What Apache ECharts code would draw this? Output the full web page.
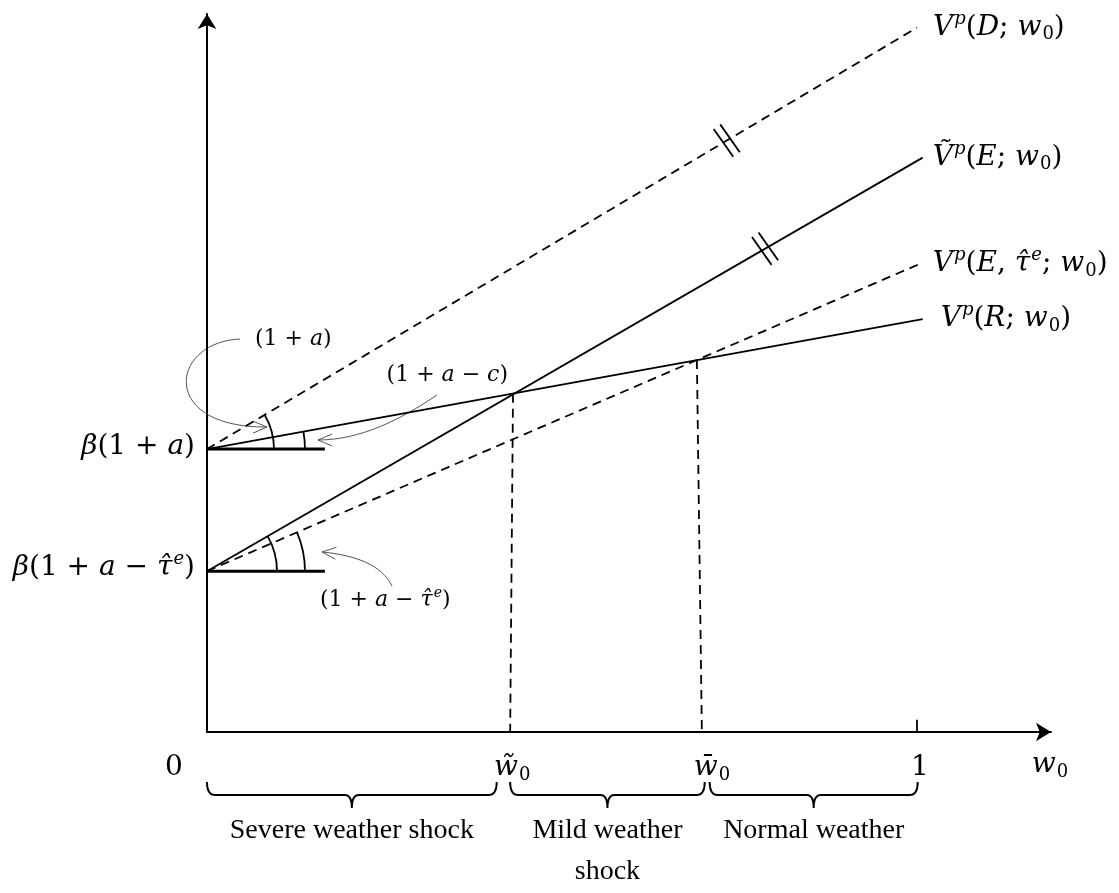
<!DOCTYPE html>
<html>
<head>
<meta charset="utf-8">
<script src="https://cdn.jsdelivr.net/npm/echarts@6/dist/echarts.min.js"></script>
<style>
  html, body { margin: 0; padding: 0; background: #fff; }
  #main { width: 1119px; height: 893px; }
</style>
</head>
<body>
<div id="main"></div>
<script>
// value functions, [w0, V] end points
var lineD = [[0, 0.394], [1.000, 0.981]];       // V^p(D; w0), dashed
var lineEt = [[0, 0.224], [1.008, 0.800]];      // V~^p(E; w0)
var lineEtau = [[0, 0.224], [1.004, 0.652]];    // V^p(E, tau; w0), dashed
var lineR = [[0, 0.394], [1.008, 0.575]];       // V^p(R; w0)
// horizontal reference bars at the two intercepts
var baseA = [[0, 0.394], [0.166, 0.394]];
var baseB = [[0, 0.224], [0.166, 0.224]];
// thresholds
var dropTilde = [[0.431, 0.471], [0.427, 0]];
var dropBar = [[0.690, 0.518], [0.697, 0]];
var tickOne = [[1, 0], [1, 0.017]];
// double hash marks (x position on the line)
var hashOnD = 0.732;
var hashOnEt = 0.786;
// regions under the axis
var regionFrom = [0, 0.427, 0.708];
var regionTo = [0.408, 0.701, 1.001];
var regionText = ['Severe weather shock', 'Mild weather\nshock', 'Normal weather'];

var serif = 'DejaVu Serif';
function mathRich(size) {
  var s = Math.round(size * 0.64);
  return {
    r: { fontFamily: serif, fontSize: size, color: '#000' },
    i: { fontFamily: serif, fontSize: size, fontStyle: 'italic', color: '#000' },
    sup: { fontFamily: serif, fontSize: s, fontStyle: 'italic', color: '#000', padding: [0, 0, Math.round(size * 0.6), 1] },
    sub: { fontFamily: serif, fontSize: s, color: '#000', padding: [Math.round(size * 0.5), 0, 0, 1] }
  };
}

function lineSeries(data, dashed, label, dist) {
  var s = {
    type: 'line', data: data, symbol: 'none', silent: true, z: 3,
    lineStyle: { color: '#000', width: 1.8, type: dashed ? [9, 6] : 'solid' }
  };
  if (label) {
    s.endLabel = {
      show: true, distance: dist, rich: mathRich(28),
      formatter: function () { return label; }
    };
  }
  return s;
}

var chart = echarts.init(document.getElementById('main'));
var xMax = (1051 - 207) / 710;

chart.setOption({
  animation: false,
  backgroundColor: '#fff',
  grid: { left: 207, right: 68, top: 14, bottom: 161 },
  xAxis: {
    type: 'value', min: 0, max: xMax,
    axisLine: { show: true, onZero: false, symbol: ['none', 'arrow'], symbolSize: [14, 15], lineStyle: { color: '#000', width: 2 } },
    axisTick: { show: false }, axisLabel: { show: false }, splitLine: { show: false }
  },
  yAxis: {
    type: 'value', min: 0, max: 1,
    axisLine: { show: true, onZero: false, symbol: ['none', 'arrow'], symbolSize: [14, 15], lineStyle: { color: '#000', width: 2 } },
    axisTick: { show: false }, axisLabel: { show: false }, splitLine: { show: false }
  },
  series: [
    lineSeries(lineD, true, '{i|V}{sup|p}{r|(}{i|D}{r|; }{i|w}{sub|0}{r|)}', 16),
    lineSeries(lineEt, false, '{i|Ṽ}{sup|p}{r|(}{i|E}{r|; }{i|w}{sub|0}{r|)}', 10),
    lineSeries(lineEtau, true, '{i|V}{sup|p}{r|(}{i|E}{r|, }{i|τ̂}{sup|e}{r|; }{i|w}{sub|0}{r|)}', 13),
    lineSeries(lineR, false, '{i|V}{sup|p}{r|(}{i|R}{r|; }{i|w}{sub|0}{r|)}', 18),
    { type: 'line', data: baseA, symbol: 'none', silent: true, lineStyle: { color: '#000', width: 3 } },
    { type: 'line', data: baseB, symbol: 'none', silent: true, lineStyle: { color: '#000', width: 3 } },
    { type: 'line', data: dropTilde, symbol: 'none', silent: true, lineStyle: { color: '#000', width: 1.8, type: [9, 6] } },
    { type: 'line', data: dropBar, symbol: 'none', silent: true, lineStyle: { color: '#000', width: 1.8, type: [9, 6] } },
    { type: 'line', data: tickOne, symbol: 'none', silent: true, lineStyle: { color: '#000', width: 1.8 } }
  ]
});

// annotations: arcs, hash marks, arrows, labels, braces
var px = function (p) { return chart.convertToPixel({ gridIndex: 0 }, p); };
var O = px([0, 0]);
var g = [];
var ink = { stroke: '#000', fill: 'none', lineWidth: 1.8 };

function angleArc(from, to, r) {
  var o = px(from), e = px(to);
  var ang = Math.atan2(e[1] - o[1], e[0] - o[0]);
  g.push({ type: 'arc', silent: true, shape: { cx: o[0], cy: o[1], r: r, startAngle: ang, endAngle: 0, clockwise: true }, style: ink });
}
angleArc(lineD[0], lineD[1], 67);
angleArc(lineR[0], lineR[1], 98);
angleArc(lineEt[0], lineEt[1], 70);
angleArc(lineEtau[0], lineEtau[1], 98);

function hash(line, xc) {
  var a = line[0], b = line[1];
  var y = a[1] + (b[1] - a[1]) * (xc - a[0]) / (b[0] - a[0]);
  var c = px([xc, y]);
  var u = [0.575, 0.818], v = [0.818, -0.575];
  [-4, 4].forEach(function (k) {
    var cx = c[0] + k * v[0], cy = c[1] + k * v[1];
    g.push({ type: 'line', silent: true, shape: { x1: cx - 17 * u[0], y1: cy - 17 * u[1], x2: cx + 17 * u[0], y2: cy + 17 * u[1] }, style: ink });
  });
}
hash(lineD, hashOnD);
hash(lineEt, hashOnEt);

function curveArrow(p0, c1, c2, p3) {
  var P = function (p) { return [O[0] + p[0], O[1] + p[1]]; };
  p0 = P(p0); c1 = P(c1); c2 = P(c2); p3 = P(p3);
  var st = { stroke: '#555', fill: 'none', lineWidth: 1 };
  g.push({ type: 'bezierCurve', silent: true, shape: { x1: p0[0], y1: p0[1], cpx1: c1[0], cpy1: c1[1], cpx2: c2[0], cpy2: c2[1], x2: p3[0], y2: p3[1] }, style: st });
  var dx = p3[0] - c2[0], dy = p3[1] - c2[1], L = Math.sqrt(dx * dx + dy * dy);
  dx /= L; dy /= L;
  g.push({ type: 'polyline', silent: true, shape: { points: [
    [p3[0] - 14 * dx - 6 * dy, p3[1] - 14 * dy + 6 * dx], p3,
    [p3[0] - 14 * dx + 6 * dy, p3[1] - 14 * dy - 6 * dx]] }, style: st });
}
curveArrow([33, -393], [-37, -390], [-49, -304], [60, -305]);
curveArrow([230, -337], [193, -312], [153, -292], [111, -292]);
curveArrow([185, -146], [175, -167], [148, -177], [115, -180]);

function text(x, y, str, rich, align) {
  g.push({ type: 'text', silent: true, x: x, y: y, style: {
    text: str, rich: rich, align: align || 'left', textAlign: align || 'left',
    verticalAlign: 'middle', textVerticalAlign: 'middle', fill: '#000' } });
}
var big = mathRich(28), small = mathRich(22);
var pA = px(baseA[0]), pB = px(baseB[0]);
text(pA[0] - 12, pA[1] - 2, '{i|β}{r|(1 + }{i|a}{r|)}', big, 'right');
text(pB[0] - 12, pB[1] - 3, '{i|β}{r|(1 + }{i|a}{r| − }{i|τ̂}{sup|e}{r|)}', big, 'right');
text(O[0] + 48, O[1] - 393, '{r|(1 + }{i|a}{r|)}', small, 'left');
text(O[0] + 301, O[1] - 357, '{r|(1 + }{i|a}{r| − }{i|c}{r|)}', small, 'right');
text(O[0] + 113, O[1] - 132, '{r|(1 + }{i|a}{r| − }{i|τ̂}{sup|e}{r|)}', small, 'left');

// axis labels
var xTickPos = [0, dropTilde[1][0], dropBar[1][0], 1];
var xTickText = ['{r|0}', '{i|w̃}{sub|0}', '{i|w̄}{sub|0}', '{r|1}'];
var xTickShift = [-33, 2, 10, 3];
xTickPos.forEach(function (v, k) {
  var p = px([v, 0]);
  text(p[0] + xTickShift[k], p[1] + 36, xTickText[k], big, 'center');
});
text(O[0] + 843, O[1] + 33, '{i|w}{sub|0}', big, 'center');

// curly braces and region names
function quad(p0, c, p1, out) {
  for (var t = 0; t <= 1.0001; t += 0.1) {
    var s = 1 - t;
    out.push([s * s * p0[0] + 2 * s * t * c[0] + t * t * p1[0], s * s * p0[1] + 2 * s * t * c[1] + t * t * p1[1]]);
  }
}
regionFrom.forEach(function (v, k) {
  var a = px([v, 0])[0], b = px([regionTo[k], 0])[0], m = (a + b) / 2;
  var t = O[1] + 50, h = O[1] + 63, tip = O[1] + 76;
  var pts = [];
  quad([a, t], [a, h], [a + 8, h], pts);
  quad([m - 7, h], [m, h], [m, tip], pts);
  quad([m, tip], [m, h], [m + 7, h], pts);
  quad([b - 8, h], [b, h], [b, t], pts);
  g.push({ type: 'polyline', silent: true, shape: { points: pts }, style: { stroke: '#000', fill: 'none', lineWidth: 2 } });
  g.push({ type: 'text', silent: true, x: m, y: O[1] + 78, style: {
    text: regionText[k], font: '28px "Liberation Serif"', lineHeight: 41,
    align: 'center', textAlign: 'center', verticalAlign: 'top', textVerticalAlign: 'top', fill: '#000' } });
});

chart.setOption({ graphic: { elements: g } });
</script>
</body>
</html>
